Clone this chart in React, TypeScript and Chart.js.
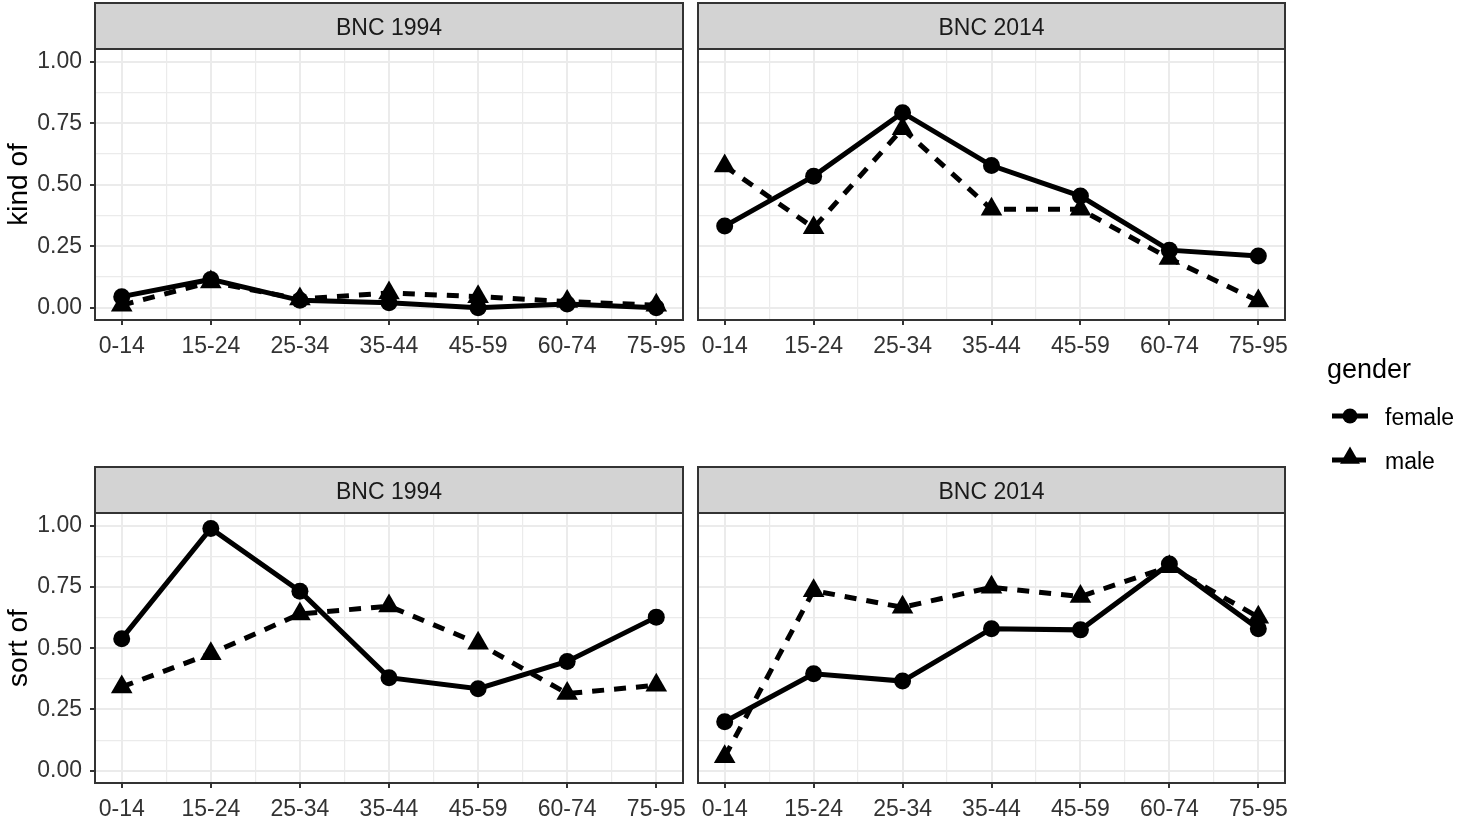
import React, { useEffect, useRef } from 'react';
import { Chart, registerables } from 'chart.js';

Chart.register(...registerables);

// ---------- data ----------
const ageGroups = ['0-14', '15-24', '25-34', '35-44', '45-59', '60-74', '75-95'];
const yMajorTicks = [0, 0.25, 0.5, 0.75, 1.0];
const genders = ['female', 'male'];
const corpora = ['BNC 1994', 'BNC 2014'];
const measures = ['kind of', 'sort of'];

const kindOf1994Female = [0.045, 0.115, 0.03, 0.02, 0.0, 0.015, 0.0];
const kindOf1994Male = [0.01, 0.105, 0.035, 0.06, 0.045, 0.025, 0.01];
const kindOf2014Female = [0.332, 0.535, 0.793, 0.578, 0.454, 0.234, 0.21];
const kindOf2014Male = [0.576, 0.325, 0.728, 0.4, 0.4, 0.2, 0.027];
const sortOf1994Female = [0.539, 0.989, 0.733, 0.38, 0.335, 0.446, 0.627];
const sortOf1994Male = [0.342, 0.478, 0.64, 0.672, 0.52, 0.315, 0.349];
const sortOf2014Female = [0.2, 0.396, 0.366, 0.58, 0.575, 0.844, 0.58];
const sortOf2014Male = [0.057, 0.735, 0.667, 0.749, 0.711, 0.833, 0.627];

// ---------- layout / style ----------
const W = 1460;
const H = 818;
const FONT = "'Liberation Sans', Arial, Helvetica, sans-serif";
const STRIP_H = 46;
const X_AXIS_H = 38;
const TEXT_COLOR = '#333333';
const LABEL_SIZE = 23;
const TITLE_SIZE = 28;

type Area = { left: number; top: number; right: number; bottom: number };

const panels: { strip: string; yTitle: string | null; female: number[]; male: number[]; area: Area; showY: boolean; legend: boolean }[] = [
  { strip: corpora[0], yTitle: measures[0], female: kindOf1994Female, male: kindOf1994Male, area: { left: 95, top: 49, right: 683, bottom: 320 }, showY: true, legend: true },
  { strip: corpora[1], yTitle: null, female: kindOf2014Female, male: kindOf2014Male, area: { left: 698, top: 49, right: 1285, bottom: 320 }, showY: false, legend: false },
  { strip: corpora[0], yTitle: measures[1], female: sortOf1994Female, male: sortOf1994Male, area: { left: 95, top: 513, right: 683, bottom: 783 }, showY: true, legend: false },
  { strip: corpora[1], yTitle: null, female: sortOf2014Female, male: sortOf2014Male, area: { left: 698, top: 513, right: 1285, bottom: 783 }, showY: false, legend: false },
];

const isInt = (v: number) => Math.abs(v - Math.round(v)) < 1e-6;
const isMajorY = (v: number) => yMajorTicks.some((t) => Math.abs(t - v) < 1e-6);

function drawTriangle(ctx: CanvasRenderingContext2D, x: number, y: number, r: number) {
  ctx.beginPath();
  ctx.moveTo(x, y - r);
  ctx.lineTo(x + 0.866 * r, y + 0.5 * r);
  ctx.lineTo(x - 0.866 * r, y + 0.5 * r);
  ctx.closePath();
  ctx.fill();
}

const framePlugin = {
  id: 'frame',
  afterDraw(chart: any, _args: any, opts: any) {
    const { ctx, chartArea } = chart;
    const { left, top, right, bottom } = chartArea;
    ctx.save();
    // strip
    ctx.fillStyle = '#D3D3D3';
    ctx.fillRect(left, top - STRIP_H, right - left, STRIP_H);
    ctx.strokeStyle = '#333333';
    ctx.lineWidth = 2;
    ctx.strokeRect(left, top - STRIP_H, right - left, STRIP_H);
    ctx.fillStyle = '#1A1A1A';
    ctx.font = `${LABEL_SIZE}px ${FONT}`;
    ctx.textAlign = 'center';
    ctx.textBaseline = 'middle';
    ctx.fillText(opts.text, (left + right) / 2, top - STRIP_H / 2 + 3);
    // panel border
    ctx.strokeRect(left, top, right - left, bottom - top);

    if (opts.legend) {
      ctx.fillStyle = '#000';
      ctx.textAlign = 'left';
      ctx.textBaseline = 'alphabetic';
      ctx.font = `27px ${FONT}`;
      ctx.fillText('gender', 1327, 378);
      ctx.font = `${LABEL_SIZE}px ${FONT}`;
      ctx.textBaseline = 'middle';
      // female key
      ctx.strokeStyle = '#000';
      ctx.lineWidth = 5;
      ctx.setLineDash([]);
      ctx.beginPath();
      ctx.moveTo(1332, 416);
      ctx.lineTo(1368, 416);
      ctx.stroke();
      ctx.beginPath();
      ctx.arc(1350, 416, 7.5, 0, Math.PI * 2);
      ctx.fill();
      ctx.fillText(genders[0], 1385, 419);
      // male key
      ctx.setLineDash([12, 10]);
      ctx.beginPath();
      ctx.moveTo(1332, 460);
      ctx.lineTo(1368, 460);
      ctx.stroke();
      ctx.setLineDash([]);
      drawTriangle(ctx, 1350, 458, 11.5);
      ctx.fillText(genders[1], 1385, 463);
    }
    ctx.restore();
  },
};

function PanelChart({ p }: { p: (typeof panels)[number] }) {
  const ref = useRef<HTMLCanvasElement | null>(null);
  useEffect(() => {
    if (!ref.current) return;
    const yW = p.showY ? p.area.left : 10;
    const chart = new Chart(ref.current, {
      type: 'line',
      data: {
        datasets: [
          {
            label: genders[0],
            data: p.female.map((v, i) => ({ x: i + 1, y: v })),
            borderColor: '#000',
            backgroundColor: '#000',
            borderWidth: 5,
            pointStyle: 'circle',
            pointRadius: 8.5,
            pointHoverRadius: 8.5,
            pointBorderWidth: 0,
            tension: 0,
            clip: false as any,
          },
          {
            label: genders[1],
            data: p.male.map((v, i) => ({ x: i + 1, y: v })),
            borderColor: '#000',
            backgroundColor: '#000',
            borderWidth: 5,
            borderDash: [12, 10],
            pointStyle: 'triangle',
            pointRadius: 12.5,
            pointHoverRadius: 12.5,
            pointBorderWidth: 0,
            tension: 0,
            clip: false as any,
          },
        ],
      },
      options: {
        responsive: false,
        animation: false,
        devicePixelRatio: 1,
        events: [],
        layout: {
          padding: {
            left: p.area.left - yW,
            top: p.area.top,
            right: W - p.area.right,
            bottom: H - p.area.bottom - X_AXIS_H,
          },
        },
        plugins: {
          legend: { display: false },
          tooltip: { enabled: false },
          frame: { text: p.strip, legend: p.legend },
        } as any,
        scales: {
          x: {
            type: 'linear',
            min: 0.7,
            max: 7.3,
            border: { display: false },
            ticks: {
              stepSize: 0.5,
              includeBounds: false,
              autoSkip: false,
              maxRotation: 0,
              minRotation: 0,
              padding: 8,
              color: TEXT_COLOR,
              font: { family: FONT, size: LABEL_SIZE },
              callback: (v: any) => (isInt(Number(v)) ? ageGroups[Math.round(Number(v)) - 1] : ''),
            },
            grid: {
              color: '#EBEBEB',
              lineWidth: (c: any) => (c.tick && isInt(c.tick.value) ? 2 : 1.2),
              tickColor: (c: any) => (c.tick && isInt(c.tick.value) ? '#333333' : 'rgba(0,0,0,0)'),
              tickLength: 5,
              tickWidth: 2,
            },
            afterFit: (s: any) => {
              s.height = X_AXIS_H;
            },
          },
          y: {
            type: 'linear',
            min: -0.05,
            max: 1.052,
            border: { display: false },
            ticks: {
              display: p.showY,
              stepSize: 0.125,
              includeBounds: false,
              padding: 8,
              color: TEXT_COLOR,
              font: { family: FONT, size: LABEL_SIZE },
              callback: (v: any) => (isMajorY(Number(v)) ? Number(v).toFixed(2) : ''),
            },
            grid: {
              color: '#EBEBEB',
              lineWidth: (c: any) => (c.tick && isMajorY(c.tick.value) ? 2 : 1.2),
              tickColor: (c: any) => (c.tick && isMajorY(c.tick.value) ? '#333333' : 'rgba(0,0,0,0)'),
              drawTicks: p.showY,
              tickLength: 5,
              tickWidth: 2,
            },
            title: {
              display: !!p.yTitle,
              text: p.yTitle || '',
              color: '#000',
              font: { family: FONT, size: TITLE_SIZE },
              padding: { top: 2, bottom: 0 },
            },
            afterFit: (s: any) => {
              s.width = yW;
            },
          },
        },
      } as any,
      plugins: [framePlugin],
    });
    return () => chart.destroy();
  }, [p]);
  return (
    <canvas
      ref={ref}
      width={W}
      height={H}
      style={{ position: 'absolute', left: 0, top: 0, width: W, height: H }}
    />
  );
}

export default function App() {
  return (
    <div style={{ position: 'fixed', left: 0, top: 0, width: W, height: H, background: '#fff', overflow: 'hidden' }}>
      {panels.map((p, i) => (
        <PanelChart key={i} p={p} />
      ))}
    </div>
  );
}
